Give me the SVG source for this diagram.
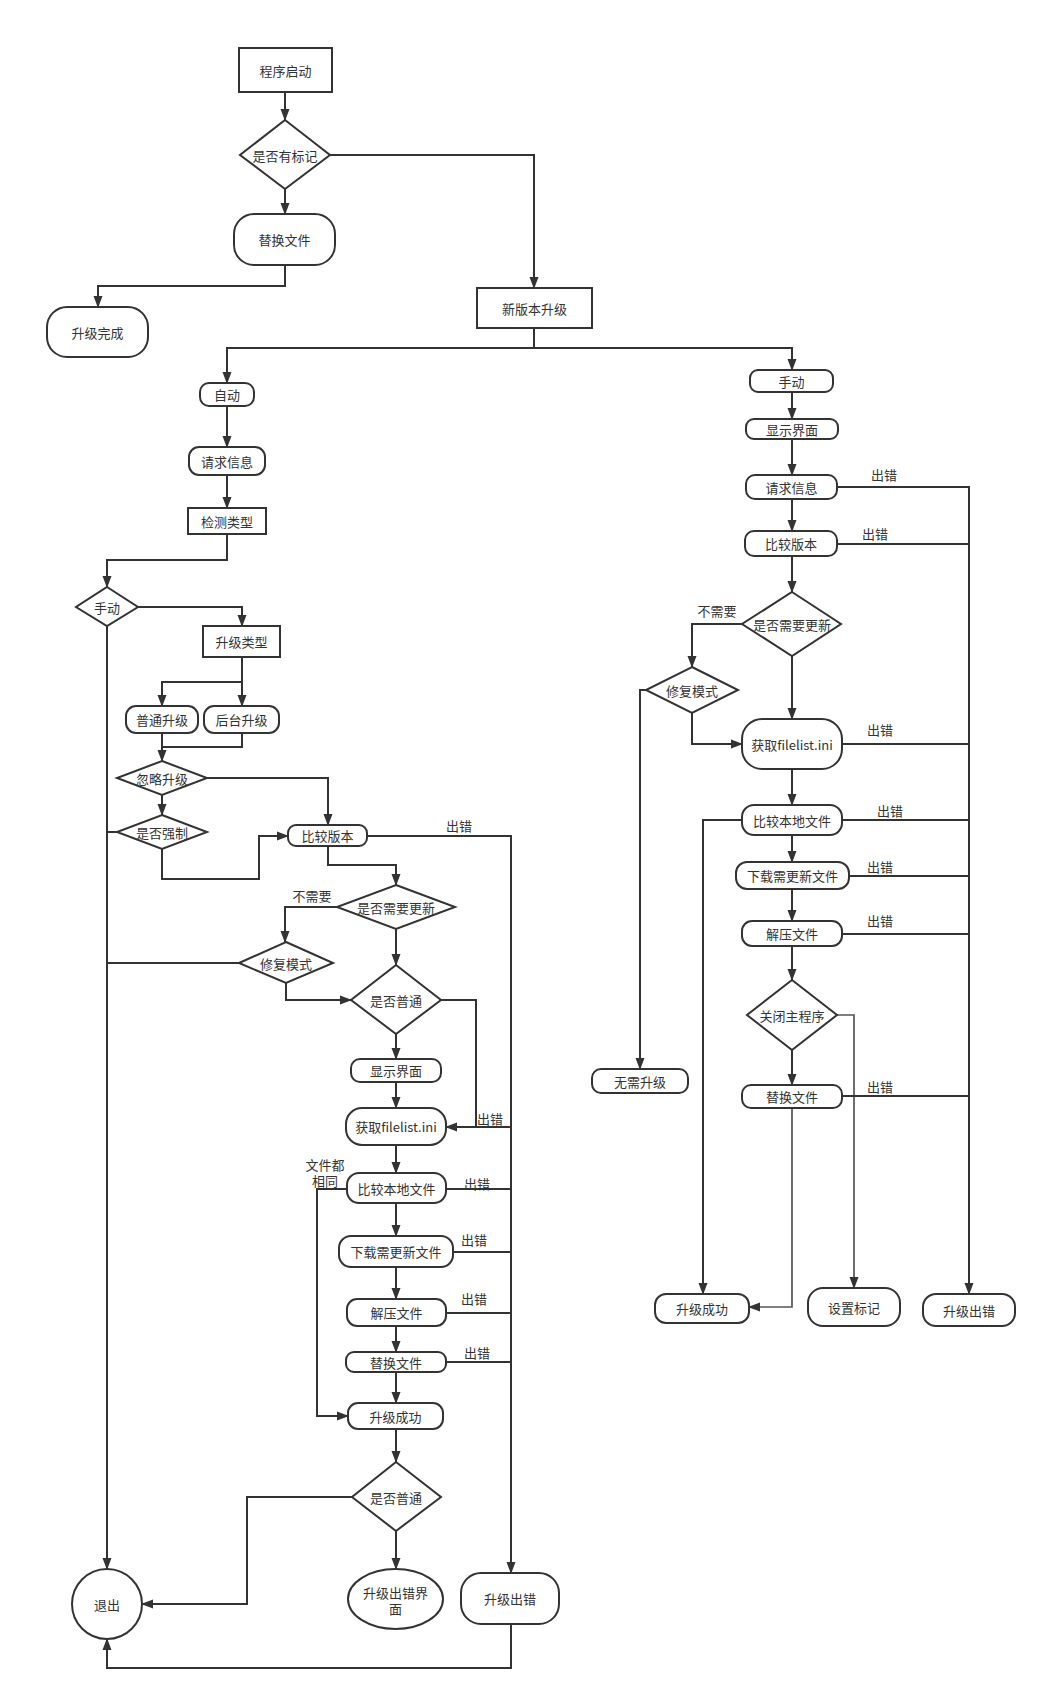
<svg xmlns="http://www.w3.org/2000/svg" width="1047" height="1701" viewBox="0 0 1047 1701">
<style>
.n{fill:#fff;stroke:#333;stroke-width:2}
.t{font-family:"Noto Sans CJK SC","Liberation Sans",sans-serif;font-size:13px;fill:#333;text-anchor:middle;dominant-baseline:central}
.c{fill:none;stroke:#333;stroke-width:2}
.g{stroke:#555;stroke-width:1.7}
.a{marker-end:url(#ah)}
</style>
<defs>
<marker id="ah" viewBox="0 0 12 10" refX="11" refY="5" markerWidth="12" markerHeight="10" markerUnits="userSpaceOnUse" orient="auto">
<path d="M0,0.5 L12,5 L0,9.5 z" fill="#333"/>
</marker>
</defs>
<rect width="1047" height="1701" fill="#fff"/>
<g id="connectors">
<path class="c a" d="M285,92 V120"/>
<path class="c a" d="M285,189 V214"/>
<path class="c a" d="M330,155 H534 V288"/>
<path class="c a" d="M285,265 V286 H98 V307"/>
<path class="c a" d="M534,328 V348 H227 V383"/>
<path class="c a" d="M534,348 H792 V370"/>
<path class="c a" d="M227,406 V447"/>
<path class="c a" d="M227,475 V508"/>
<path class="c a" d="M227,534 V560 H107 V587"/>
<path class="c a" d="M138,607 H242 V626"/>
<path class="c a" d="M242,657 V706"/>
<path class="c a" d="M242,682 H162 V706"/>
<path class="c a" d="M162,733 V761"/>
<path class="c" d="M242,733 V747 H162"/>
<path class="c a" d="M207,778 H328 V825"/>
<path class="c a" d="M162,795 V815"/>
<path class="c" d="M117,832 H107"/>
<path class="c a" d="M107,626 V1569"/>
<path class="c a" d="M162,849 V879 H259 V836 H288"/>
<path class="c a" d="M367,836 H511 V1573"/>
<path class="c a" d="M328,846 V865 H396 V885"/>
<path class="c a" d="M337,907 H285 V942"/>
<path class="c" d="M239,963 H107"/>
<path class="c a" d="M286,983 V1000 H351"/>
<path class="c a" d="M396,929 V965"/>
<path class="c a" d="M441,1000 H476 V1127 H446"/>
<path class="c a" d="M396,1034 V1059"/>
<path class="c a" d="M396,1082 V1108"/>
<path class="c" d="M446,1127 H511"/>
<path class="c a" d="M396,1145 V1173"/>
<path class="c a" d="M347,1189 H317 V1416 H348"/>
<path class="c" d="M446,1189 H511"/>
<path class="c a" d="M396,1203 V1236"/>
<path class="c" d="M453,1252 H511"/>
<path class="c a" d="M396,1267 V1299"/>
<path class="c" d="M446,1313 H511"/>
<path class="c a" d="M396,1326 V1352"/>
<path class="c" d="M446,1362 H511"/>
<path class="c a" d="M396,1372 V1403"/>
<path class="c a" d="M396,1429 V1462"/>
<path class="c a" d="M352,1497 H247 V1604 H142"/>
<path class="c a" d="M396,1531 V1569"/>
<path class="c a" d="M511,1624 V1668 H107 V1639"/>
<path class="c a" d="M792,392 V419"/>
<path class="c a" d="M792,439 V475"/>
<path class="c a" d="M837,487 H969 V1294"/>
<path class="c a" d="M792,499 V531"/>
<path class="c" d="M837,544 H969"/>
<path class="c a" d="M792,556 V592"/>
<path class="c a" d="M742,624 H692 V667"/>
<path class="c a" d="M692,713 V744 H742"/>
<path class="c a" d="M646,690 H640 V1069"/>
<path class="c a" d="M792,656 V719"/>
<path class="c" d="M842,744 H969"/>
<path class="c a" d="M792,769 V805"/>
<path class="c" d="M842,820 H969"/>
<path class="c a" d="M742,820 H703 V1294"/>
<path class="c a" d="M792,835 V862"/>
<path class="c" d="M849,876 H969"/>
<path class="c a" d="M792,889 V921"/>
<path class="c" d="M842,934 H969"/>
<path class="c a" d="M792,946 V980"/>
<path class="c g a" d="M837,1015 H854 V1288"/>
<path class="c a" d="M792,1050 V1085"/>
<path class="c" d="M842,1096 H969"/>
<path class="c g a" d="M792,1108 V1307 H749"/>
<g class="t">
<text class="t" x="459" y="825">出错</text>
<text class="t" x="312" y="895">不需要</text>
<text class="t" x="490" y="1118">出错</text>
<text class="t" x="325" y="1164">文件都</text>
<text class="t" x="325" y="1180">相同</text>
<text class="t" x="477" y="1183">出错</text>
<text class="t" x="474" y="1239">出错</text>
<text class="t" x="474" y="1298">出错</text>
<text class="t" x="477" y="1352">出错</text>
<text class="t" x="884" y="474">出错</text>
<text class="t" x="875" y="533">出错</text>
<text class="t" x="717" y="610">不需要</text>
<text class="t" x="880" y="729">出错</text>
<text class="t" x="890" y="810">出错</text>
<text class="t" x="880" y="866">出错</text>
<text class="t" x="880" y="920">出错</text>
<text class="t" x="880" y="1086">出错</text>
</g>
</g>
<g id="n1"><rect class="n" x="239" y="48" width="93" height="44"/><text class="t" x="285.5" y="70">程序启动</text></g>
<g id="n2"><path class="n" d="M285,120 L330,155 L285,189 L240,155 Z"/><text class="t" x="285" y="155">是否有标记</text></g>
<g id="n3"><rect class="n" x="234" y="214" width="101" height="51" rx="20"/><text class="t" x="284.5" y="239.5">替换文件</text></g>
<g id="n4"><rect class="n" x="47" y="307" width="101" height="50" rx="20"/><text class="t" x="97.5" y="332">升级完成</text></g>
<g id="n5"><rect class="n" x="477" y="288" width="115" height="40"/><text class="t" x="534.5" y="308">新版本升级</text></g>
<g id="n6"><rect class="n" x="200" y="383" width="54" height="23" rx="9"/><text class="t" x="227" y="394.5">自动</text></g>
<g id="n7"><rect class="n" x="189" y="447" width="76" height="28" rx="10"/><text class="t" x="227" y="461">请求信息</text></g>
<g id="n8"><rect class="n" x="188" y="508" width="78" height="26"/><text class="t" x="227" y="521">检测类型</text></g>
<g id="n9"><path class="n" d="M107,587 L138,607 L107,626 L76,607 Z"/><text class="t" x="107" y="607">手动</text></g>
<g id="n10"><rect class="n" x="203" y="626" width="77" height="31"/><text class="t" x="241.5" y="641.5">升级类型</text></g>
<g id="n11"><rect class="n" x="126" y="706" width="72" height="27" rx="10"/><text class="t" x="162" y="719.5">普通升级</text></g>
<g id="n12"><rect class="n" x="204" y="706" width="75" height="27" rx="10"/><text class="t" x="241.5" y="719.5">后台升级</text></g>
<g id="n13"><path class="n" d="M162,761 L207,778 L162,795 L117,778 Z"/><text class="t" x="162" y="778">忽略升级</text></g>
<g id="n14"><path class="n" d="M162,815 L207,832 L162,849 L117,832 Z"/><text class="t" x="162" y="832">是否强制</text></g>
<g id="n15"><rect class="n" x="288" y="825" width="79" height="21" rx="8"/><text class="t" x="327.5" y="835.5">比较版本</text></g>
<g id="n16"><path class="n" d="M396,885 L455,907 L396,929 L337,907 Z"/><text class="t" x="396" y="907">是否需要更新</text></g>
<g id="n17"><path class="n" d="M286,942 L333,963 L286,983 L239,963 Z"/><text class="t" x="286" y="963">修复模式</text></g>
<g id="n18"><path class="n" d="M396,965 L441,1000 L396,1034 L351,1000 Z"/><text class="t" x="396" y="1000">是否普通</text></g>
<g id="n19"><rect class="n" x="351" y="1059" width="90" height="23" rx="9"/><text class="t" x="396" y="1070.5">显示界面</text></g>
<g id="n20"><rect class="n" x="346" y="1108" width="100" height="37" rx="16"/><text class="t" x="396" y="1126.5">获取filelist.ini</text></g>
<g id="n21"><rect class="n" x="347" y="1173" width="99" height="30" rx="12"/><text class="t" x="396.5" y="1188">比较本地文件</text></g>
<g id="n22"><rect class="n" x="339" y="1236" width="114" height="31" rx="12"/><text class="t" x="396" y="1251.5">下载需更新文件</text></g>
<g id="n23"><rect class="n" x="347" y="1299" width="99" height="27" rx="10"/><text class="t" x="396.5" y="1312.5">解压文件</text></g>
<g id="n24"><rect class="n" x="346" y="1352" width="100" height="20" rx="8"/><text class="t" x="396" y="1362">替换文件</text></g>
<g id="n25"><rect class="n" x="348" y="1403" width="95" height="26" rx="10"/><text class="t" x="395.5" y="1416">升级成功</text></g>
<g id="n26"><path class="n" d="M396,1462 L441,1497 L396,1531 L352,1497 Z"/><text class="t" x="396" y="1497">是否普通</text></g>
<g id="n27"><circle class="n" cx="107" cy="1604" r="35"/><text class="t" x="107" y="1604">退出</text></g>
<g id="n28"><ellipse class="n" cx="395.5" cy="1599" rx="47.5" ry="30"/><text class="t" x="395.5" y="1592">升级出错界</text><text class="t" x="395.5" y="1608">面</text></g>
<g id="n29"><rect class="n" x="461" y="1573" width="98" height="51" rx="20"/><text class="t" x="510" y="1598.5">升级出错</text></g>
<g id="n30"><rect class="n" x="750" y="370" width="83" height="22" rx="8"/><text class="t" x="791.5" y="381">手动</text></g>
<g id="n31"><rect class="n" x="746" y="419" width="92" height="20" rx="8"/><text class="t" x="792" y="429">显示界面</text></g>
<g id="n32"><rect class="n" x="746" y="475" width="91" height="24" rx="9"/><text class="t" x="791.5" y="487">请求信息</text></g>
<g id="n33"><rect class="n" x="745" y="531" width="92" height="25" rx="9"/><text class="t" x="791" y="543.5">比较版本</text></g>
<g id="n34"><path class="n" d="M792,592 L841,624 L792,656 L742,624 Z"/><text class="t" x="792" y="624">是否需要更新</text></g>
<g id="n35"><path class="n" d="M692,667 L738,690 L692,713 L646,690 Z"/><text class="t" x="692" y="690">修复模式</text></g>
<g id="n36"><rect class="n" x="742" y="719" width="100" height="50" rx="20"/><text class="t" x="792" y="744">获取filelist.ini</text></g>
<g id="n37"><rect class="n" x="742" y="805" width="100" height="30" rx="12"/><text class="t" x="792" y="820">比较本地文件</text></g>
<g id="n38"><rect class="n" x="736" y="862" width="113" height="27" rx="11"/><text class="t" x="792.5" y="875.5">下载需更新文件</text></g>
<g id="n39"><rect class="n" x="742" y="921" width="100" height="25" rx="10"/><text class="t" x="792" y="933.5">解压文件</text></g>
<g id="n40"><path class="n" d="M792,980 L837,1015 L792,1050 L747,1015 Z"/><text class="t" x="792" y="1015">关闭主程序</text></g>
<g id="n41"><rect class="n" x="742" y="1085" width="100" height="23" rx="9"/><text class="t" x="792" y="1096.5">替换文件</text></g>
<g id="n42"><rect class="n" x="592" y="1069" width="96" height="24" rx="9"/><text class="t" x="640" y="1081">无需升级</text></g>
<g id="n43"><rect class="n" x="655" y="1294" width="94" height="29" rx="11"/><text class="t" x="702" y="1308.5">升级成功</text></g>
<g id="n44"><rect class="n" x="808" y="1288" width="92" height="38" rx="15"/><text class="t" x="854" y="1307">设置标记</text></g>
<g id="n45"><rect class="n" x="923" y="1294" width="92" height="32" rx="13"/><text class="t" x="969" y="1310">升级出错</text></g>
</svg>
